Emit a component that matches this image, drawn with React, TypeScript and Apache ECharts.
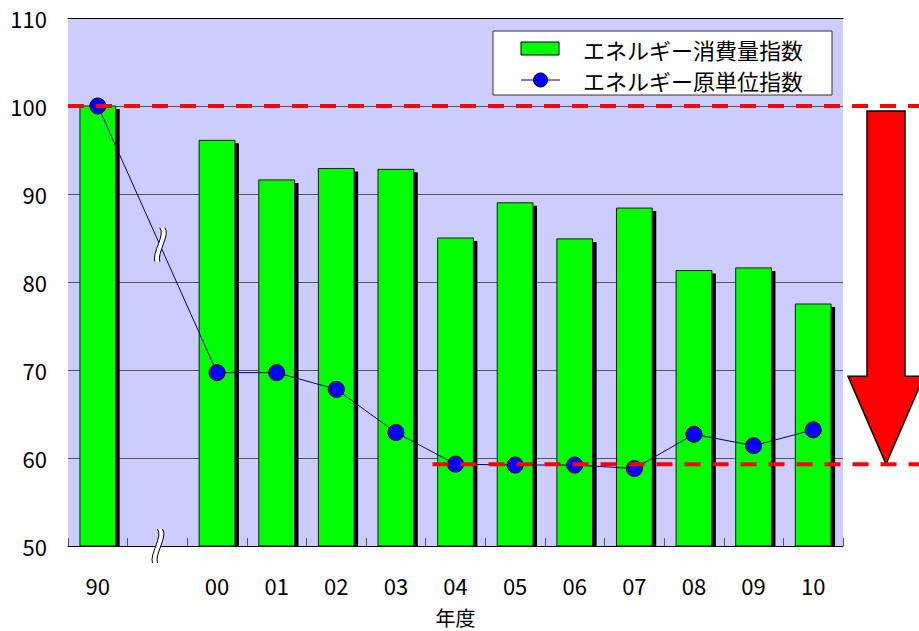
import React, { useEffect, useRef } from 'react';
import * as echarts from 'echarts';

// Fiscal years (the empty slot marks the axis break between 1990 and 2000)
const years = ['90', '', '00', '01', '02', '03', '04', '05', '06', '07', '08', '09', '10'];
// Energy consumption index (1990 = 100)
const consumptionIndex = [100, null, 96.1, 91.6, 92.9, 92.8, 85.0, 89.0, 84.9, 88.4, 81.3, 81.6, 77.5];
// Energy intensity index (1990 = 100)
const intensityIndex = [100, null, 69.7, 69.7, 67.8, 62.9, 59.3, 59.2, 59.2, 58.8, 62.7, 61.4, 63.2];
const seriesNames = ['エネルギー消費量指数', 'エネルギー原単位指数'];
const xAxisTitle = '年度';
const yTicks = { min: 50, max: 110, step: 10 };
const baseIdx = 0; // 1990
const lowIdx = 6; // 2004

const FONT = "'Noto Sans CJK JP', 'Noto Sans', sans-serif";

// Wavy "break" symbol: white band between two S-curves
try {
  echarts.graphic.registerShape(
    'breakFill',
    echarts.graphic.extendPath('M 0 -17 C 6 -10 -8 8 -5 17 L 0 17 C -3 8 11 -10 5 -17 Z', {})
  );
  echarts.graphic.registerShape(
    'breakEdges',
    echarts.graphic.extendPath('M 0 -17 C 6 -10 -8 8 -5 17 M 5 -17 C 11 -10 -3 8 0 17', {})
  );
} catch (e) {
  /* already registered */
}

export default function App() {
  const ref = useRef<HTMLDivElement>(null);

  useEffect(() => {
    const el = ref.current!;
    const chart = echarts.init(el, undefined, { renderer: 'svg' });

    const barData = consumptionIndex
      .map((v, i) => (v == null ? null : [i, v]))
      .filter((d) => d !== null);

    chart.setOption({
      animation: false,
      textStyle: { fontFamily: FONT },
      grid: {
        left: 68,
        right: 76,
        top: 18,
        bottom: 85,
        outerBoundsMode: 'none',
        containLabel: false,
        show: true,
        backgroundColor: '#ccccff',
        borderWidth: 0,
      },
      xAxis: [
        {
          type: 'category',
          data: years,
          boundaryGap: true,
          axisLine: { show: true, lineStyle: { color: '#000', width: 1.2 } },
          axisTick: { show: true, inside: true, length: 8, lineStyle: { color: '#555' } },
          axisLabel: { color: '#000', fontSize: 22, margin: 28, fontFamily: FONT },
          splitLine: { show: false },
          name: xAxisTitle,
          nameLocation: 'middle',
          nameGap: 61,
          nameTextStyle: { color: '#000', fontSize: 20, fontFamily: FONT },
        },
        {
          type: 'category',
          data: years,
          position: 'top',
          axisLine: { show: true, lineStyle: { color: '#000', width: 1.2 } },
          axisTick: { show: false },
          axisLabel: { show: false },
          splitLine: { show: false },
        },
      ],
      yAxis: {
        type: 'value',
        min: yTicks.min,
        max: yTicks.max,
        interval: yTicks.step,
        axisLine: { show: false },
        axisTick: { show: false },
        axisLabel: { color: '#000', fontSize: 22, margin: 21, fontFamily: FONT },
        splitLine: { show: true, lineStyle: { color: '#555', width: 1 } },
      },
      series: [
        {
          name: seriesNames[0],
          type: 'custom',
          z: 2,
          itemStyle: { color: '#00ff00' },
          encode: { x: 0, y: 1 },
          data: barData,
          renderItem: (params: any, api: any) => {
            const idx = api.value(0);
            const val = api.value(1);
            const top = api.coord([idx, val]);
            const base = api.coord([idx, yTicks.min]);
            const w = api.size([1, 0])[0] * 0.6;
            const h = base[1] - top[1];
            return {
              type: 'group',
              children: [
                {
                  type: 'rect',
                  shape: { x: top[0] - w / 2 + 4, y: top[1] + 3, width: w, height: h - 3 },
                  style: { fill: '#000' },
                },
                {
                  type: 'rect',
                  shape: { x: top[0] - w / 2, y: top[1], width: w, height: h },
                  style: { fill: '#00ff00', stroke: '#1a1a1a', lineWidth: 1 },
                },
              ],
            };
          },
        },
        {
          name: seriesNames[1],
          type: 'line',
          z: 3,
          data: intensityIndex,
          connectNulls: true,
          symbol: 'circle',
          symbolSize: 16,
          itemStyle: { color: '#0000ff', borderColor: '#000', borderWidth: 1 },
          lineStyle: { color: '#000080', width: 1 },
        },
      ],
    });

    const px = (i: number, v: number) =>
      chart.convertToPixel({ gridIndex: 0 }, [i, v]) as number[];

    const slot = px(1, yTicks.min)[0] - px(0, yTicks.min)[0];
    const gridLeft = px(0, yTicks.min)[0] - slot / 2;
    const plotRight = px(years.length - 1, yTicks.min)[0] + slot / 2;
    const baseVal = intensityIndex[baseIdx] as number;
    const lowVal = intensityIndex[lowIdx] as number;
    const yBase = px(baseIdx, baseVal)[1];
    const yLow = px(lowIdx, lowVal)[1];
    const xLowStart = px(lowIdx, lowVal)[0] - 23;
    const axisBottom = px(0, yTicks.min)[1];

    // break marks: on the line between 90 and 00, and on the x axis
    const p0 = px(0, intensityIndex[0] as number);
    const p2 = px(2, intensityIndex[2] as number);
    const t = 0.52;
    const brkLine = [p0[0] + (p2[0] - p0[0]) * t, p0[1] + (p2[1] - p0[1]) * t];
    const brkAxis = [px(1, yTicks.min)[0], axisBottom];

    const breakMark = (x: number, y: number) => [
      { type: 'breakFill', x, y, z: 100, style: { fill: '#fff', stroke: 'none' } },
      { type: 'breakEdges', x, y, z: 101, style: { fill: 'none', stroke: '#000', lineWidth: 1 } },
    ];

    // downward arrow from 1990 level to the 2004 level
    const cx = plotRight + 43;
    const aTop = yBase + 5;
    const headY = yLow - 88;
    const arrow = {
      type: 'polygon',
      z: 100,
      shape: {
        points: [
          [cx - 19, aTop],
          [cx + 19, aTop],
          [cx + 19, headY],
          [cx + 38, headY],
          [cx, yLow],
          [cx - 38, headY],
          [cx - 19, headY],
        ],
      },
      style: { fill: '#ff0000', stroke: '#000', lineWidth: 1.5 },
    };

    const dashed = (x1: number, x2: number, y: number) => ({
      type: 'line',
      z: 110,
      shape: { x1, y1: y, x2, y2: y },
      style: { stroke: '#ff0000', lineWidth: 4, lineDash: [16, 12] },
    });

    // legend box
    const lgX = 493;
    const lgY = 31;
    const legend = [
      {
        type: 'rect',
        z: 120,
        shape: { x: lgX, y: lgY, width: 339, height: 64 },
        style: { fill: '#fff', stroke: '#333', lineWidth: 1 },
      },
      {
        type: 'rect',
        z: 121,
        shape: { x: lgX + 28, y: lgY + 11, width: 38, height: 13 },
        style: { fill: '#00ff00', stroke: '#000', lineWidth: 1 },
      },
      {
        type: 'text',
        z: 121,
        x: lgX + 90,
        y: lgY + 18,
        style: { text: seriesNames[0], fill: '#000', fontSize: 22, fontFamily: FONT, verticalAlign: 'middle' },
      },
      {
        type: 'line',
        z: 121,
        shape: { x1: lgX + 28, y1: lgY + 49, x2: lgX + 67, y2: lgY + 49 },
        style: { stroke: '#000080', lineWidth: 1 },
      },
      {
        type: 'circle',
        z: 122,
        shape: { cx: lgX + 47.5, cy: lgY + 49, r: 7 },
        style: { fill: '#0000ff', stroke: '#000', lineWidth: 1 },
      },
      {
        type: 'text',
        z: 121,
        x: lgX + 90,
        y: lgY + 49,
        style: { text: seriesNames[1], fill: '#000', fontSize: 22, fontFamily: FONT, verticalAlign: 'middle' },
      },
    ];

    chart.setOption({
      graphic: {
        elements: [
          ...breakMark(brkLine[0], brkLine[1]),
          ...breakMark(brkAxis[0], brkAxis[1]),
          arrow,
          dashed(gridLeft, 919, yBase),
          dashed(xLowStart, 919, yLow),
          ...legend,
        ],
      },
    });

    return () => chart.dispose();
  }, []);

  return (
    <div
      ref={ref}
      style={{ position: 'fixed', left: 0, top: 0, width: 919, height: 631, background: '#fff' }}
    />
  );
}
